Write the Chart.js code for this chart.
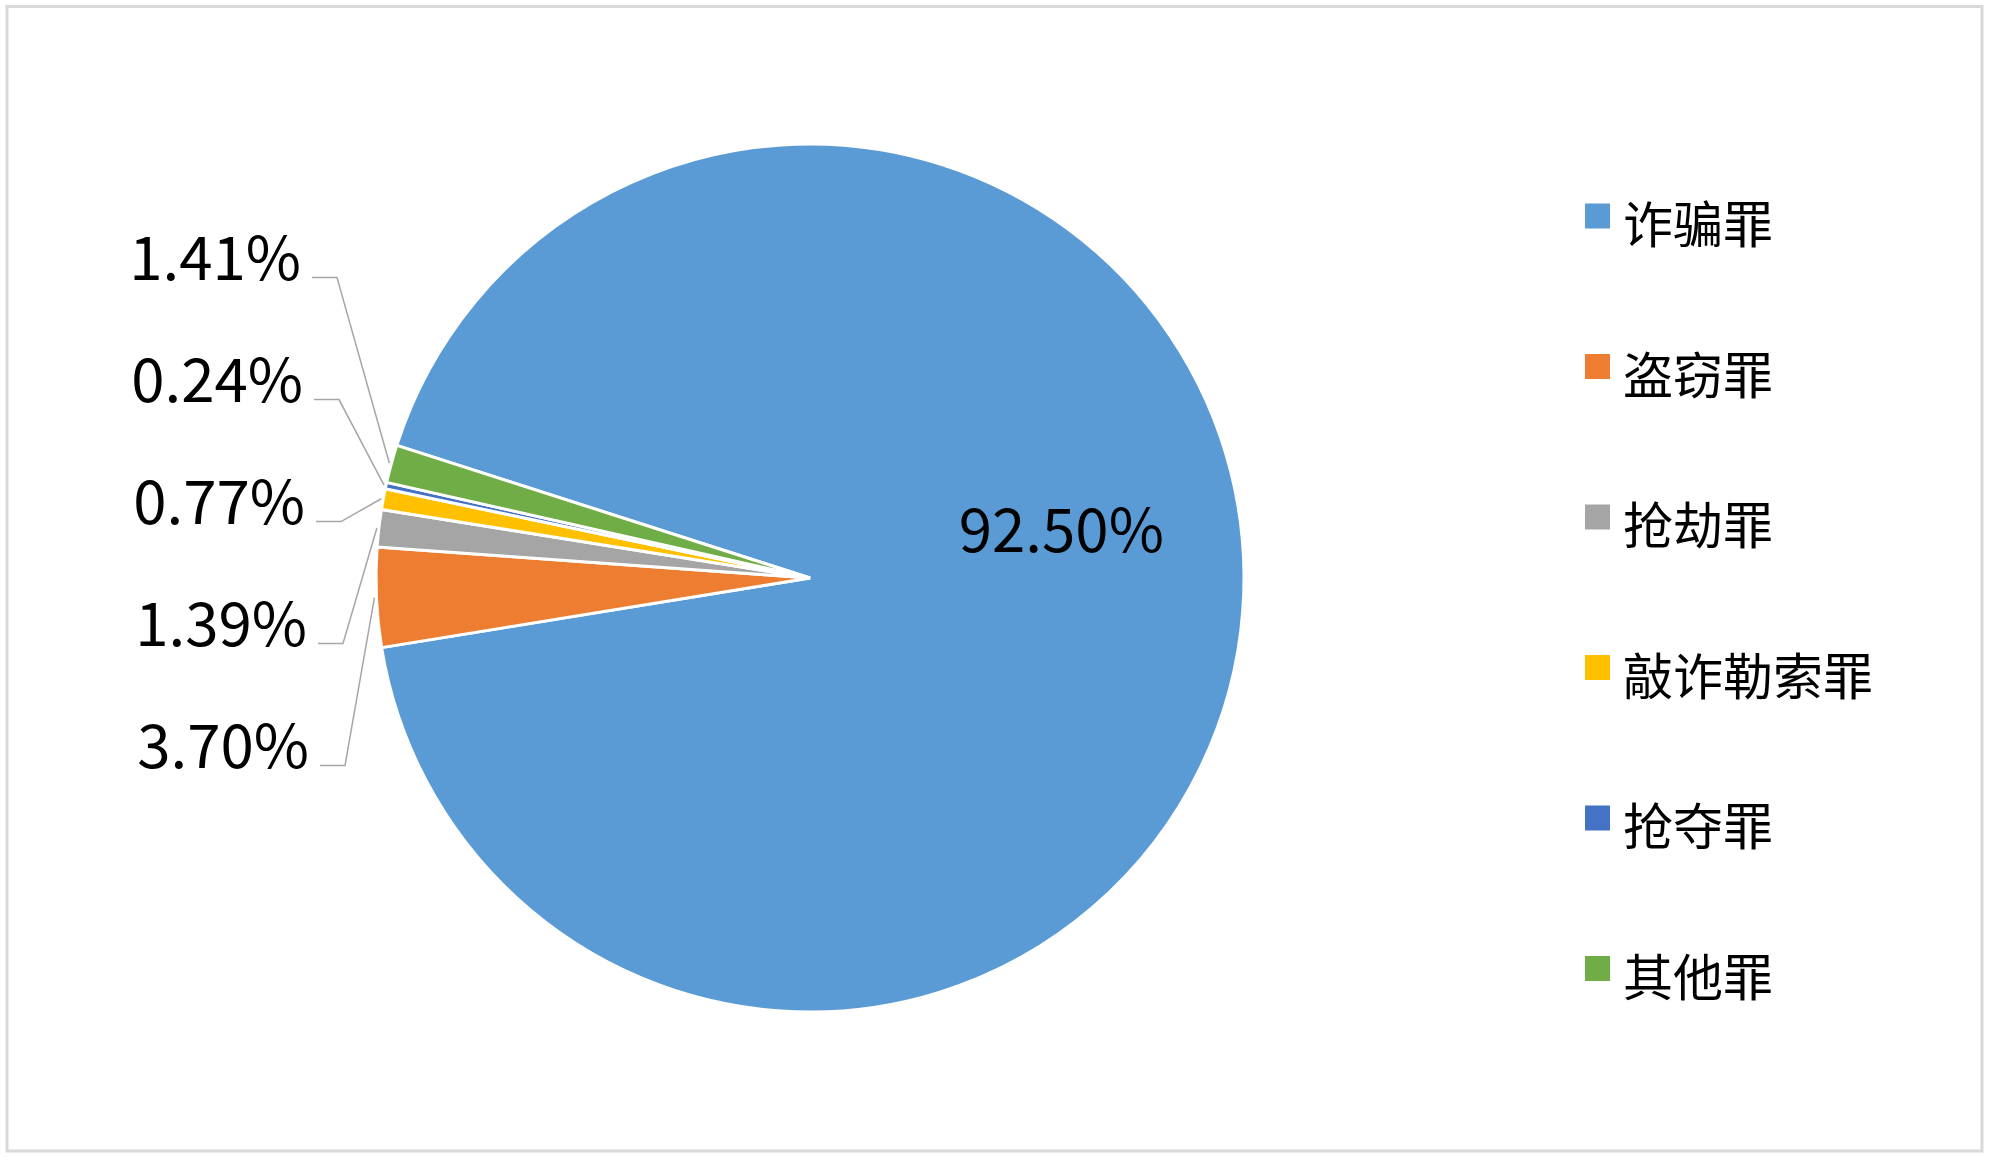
<!DOCTYPE html>
<html>
<head>
<meta charset="utf-8">
<script src="https://cdn.jsdelivr.net/npm/chart.js@4.4.0/dist/chart.umd.min.js"></script>
<style>
  html, body { margin: 0; padding: 0; background: #fff; }
  canvas { display: block; }
</style>
</head>
<body>
<canvas id="chart" width="2000" height="1167"></canvas>
<script>
const categories = ['诈骗罪', '盗窃罪', '抢劫罪', '敲诈勒索罪', '抢夺罪', '其他罪'];
const shares = [92.50, 3.70, 1.39, 0.77, 0.24, 1.41];
const colors = ['#5B9BD5', '#ED7D31', '#A5A5A5', '#FFC000', '#4472C4', '#70AD47'];

const FONT = '"Noto Sans CJK SC", "Noto Sans", sans-serif';
const DEG = Math.PI / 180;

// white background + light grey outer frame
const frame = {
  id: 'frame',
  beforeDraw(chart) {
    const ctx = chart.ctx;
    ctx.save();
    ctx.fillStyle = '#fff';
    ctx.fillRect(0, 0, chart.width, chart.height);
    ctx.strokeStyle = '#D9D9D9';
    ctx.lineWidth = 3;
    ctx.strokeRect(7, 6.5, chart.width - 25, chart.height - 22.5);
    ctx.restore();
  }
};

// percentage labels, small slices get leader lines to the left
const sliceLabels = {
  id: 'sliceLabels',
  afterDatasetsDraw(chart) {
    const ctx = chart.ctx;
    const arcs = chart.getDatasetMeta(0).data;
    ctx.save();
    ctx.font = '60px ' + FONT;
    ctx.fillStyle = '#000';
    const outside = [];
    arcs.forEach((arc, i) => {
      const p = arc.getProps(['x', 'y', 'startAngle', 'endAngle', 'outerRadius'], true);
      const mid = (p.startAngle + p.endAngle) / 2;
      const text = shares[i].toFixed(2) + '%';
      if (shares[i] > 10) {
        const a = mid - 15.3 * DEG;
        const r = p.outerRadius * 0.59;
        ctx.textAlign = 'center';
        ctx.textBaseline = 'middle';
        ctx.fillText(text, p.x + r * Math.cos(a), p.y + r * Math.sin(a));
      } else {
        outside.push({
          text,
          ax: p.x + (p.outerRadius + 2) * Math.cos(mid),
          ay: p.y + (p.outerRadius + 2) * Math.sin(mid),
          cx: p.x,
          r: p.outerRadius
        });
      }
    });

    outside.sort((a, b) => a.ay - b.ay);
    const gap = 122;
    const mean = outside.reduce((s, o) => s + o.ay, 0) / outside.length;
    const first = mean + 7 - gap * (outside.length - 1) / 2;

    ctx.textAlign = 'right';
    ctx.textBaseline = 'alphabetic';
    ctx.strokeStyle = '#A6A6A6';
    ctx.lineWidth = 1.5;
    outside.forEach((o, k) => {
      const ly = first + k * gap;
      const right = o.cx - o.r - 75 + k * 2;
      ctx.fillText(o.text, right, ly + 2);
      ctx.beginPath();
      ctx.moveTo(right + 11, ly);
      ctx.lineTo(right + 36, ly);
      ctx.lineTo(o.ax, o.ay);
      ctx.stroke();
    });
    ctx.restore();
  }
};

// legend on the right, one wide-spaced row per category
const sideLegend = {
  id: 'sideLegend',
  afterDraw(chart) {
    const ctx = chart.ctx;
    ctx.save();
    ctx.font = '50px ' + FONT;
    ctx.textAlign = 'left';
    ctx.textBaseline = 'middle';
    categories.forEach((name, i) => {
      const cy = 216 + i * 150.5;
      ctx.fillStyle = colors[i];
      ctx.fillRect(1585, cy - 12.5, 25, 25);
      ctx.fillStyle = '#000';
      ctx.fillText(name, 1623, cy + 8);
    });
    ctx.restore();
  }
};

new Chart(document.getElementById('chart'), {
  type: 'pie',
  data: {
    labels: categories,
    datasets: [{
      data: shares,
      backgroundColor: colors,
      borderColor: '#fff',
      borderWidth: 3
    }]
  },
  options: {
    responsive: false,
    animation: false,
    devicePixelRatio: 1,
    rotation: -72.2,
    radius: 434,
    layout: { padding: { top: 144, bottom: 155, left: 100, right: 480 } },
    plugins: {
      legend: { display: false },
      tooltip: { enabled: false }
    }
  },
  plugins: [frame, sliceLabels, sideLegend]
});
</script>
</body>
</html>
